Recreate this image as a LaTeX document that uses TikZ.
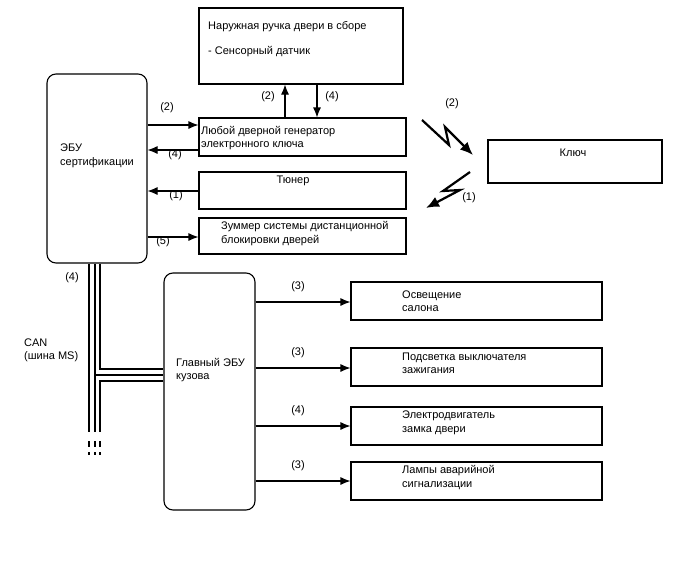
\documentclass[tikz,border=0pt]{standalone}
\usepackage{fontspec}
\setmainfont{Liberation Sans}
\usetikzlibrary{arrows.meta}

\begin{document}
\begin{tikzpicture}[
		x=1pt, y=-1pt,
		every node/.style={font=\fontsize{11}{13.5}\selectfont},
		box/.style={draw, line width=1.1pt, inner sep=0},
		ecu/.style={draw, line width=1.1pt, rounded corners=9pt, inner sep=0},
		txt/.style={inner sep=0, align=left, anchor=west},
		num/.style={inner sep=0},
		arr/.style={line width=1.1pt, -{Latex[length=10pt,width=8pt]}},
		bolt/.style={line width=2.2pt, -{Latex[length=13pt,width=11pt]}},
		bus/.style={line width=2.5pt},
		wire/.style={line width=1.3pt}
		]
		
		\useasboundingbox (0,0) rectangle (688,560);
		
		% blocks
		\node[ecu, minimum width=100pt, minimum height=189pt] (cert) at (97,168.5) {};
		\node[box, minimum width=204pt, minimum height=76pt] (handle) at (301,46) {};
		\node[box, minimum width=207pt, minimum height=38pt] (gen) at (302.5,137) {};
		\node[box, minimum width=207pt, minimum height=37pt] (tuner) at (302.5,190.5) {};
		\node[box, minimum width=207pt, minimum height=36pt] (buzzer) at (302.5,236) {};
		\node[box, minimum width=174pt, minimum height=43pt] (key) at (575,161.5) {};
		\node[ecu, minimum width=91pt, minimum height=237pt] (body) at (209.5,391.5) {};
		\node[box, minimum width=251pt, minimum height=38pt] (lamp) at (476.5,301) {};
		\node[box, minimum width=251pt, minimum height=38pt] (illum) at (476.5,367) {};
		\node[box, minimum width=251pt, minimum height=38pt] (motor) at (476.5,426) {};
		\node[box, minimum width=251pt, minimum height=38pt] (hazard) at (476.5,481) {};
		
		% texts
		\node[txt] (t-handle) at (208,27) {Наружная ручка двери в сборе};
		\node[txt] (t-sensor) at (208,52) {- Сенсорный датчик};
		\node[txt] (t-gen) at (201,138) {Любой дверной генератор\\электронного ключа};
		\node[num] (t-tuner) at (293,181) {Тюнер};
		\node[txt] (t-buzzer) at (221,233.5) {Зуммер системы дистанционной\\блокировки дверей};
		\node[num] (t-key) at (573,153) {Ключ};
		\node[txt] (t-cert) at (60,156) {ЭБУ\\сертификации};
		\node[txt] (t-body) at (176,370) {Главный ЭБУ\\кузова};
		\node[txt] (t-lamp) at (402,301) {Освещение\\салона};
		\node[txt] (t-illum) at (402,363.5) {Подсветка выключателя\\зажигания};
		\node[txt] (t-motor) at (402,423) {Электродвигатель\\замка двери};
		\node[txt] (t-hazard) at (402,477.5) {Лампы аварийной\\сигнализации};
		\node[txt] (t-can) at (24,350.5) {CAN\\(шина MS)};
		
		% signals
		\draw[arr] (cert.east |- 0,125) -- (gen.west |- 0,125);
		\draw[arr] (gen.west |- 0,150) -- (cert.east |- 0,150);
		\draw[arr] (tuner.west |- 0,191) -- (cert.east |- 0,191);
		\draw[arr] (cert.east |- 0,237) -- (buzzer.west |- 0,237);
		\draw[arr] (gen.north -| 285,0) -- (handle.south -| 285,0);
		\draw[arr] (handle.south -| 317,0) -- (gen.north -| 317,0);
		\node[num] (n-a) at (167,108) {(2)};
		\node[num] (n-b) at (175,155) {(4)};
		\node[num] (n-c) at (176,196) {(1)};
		\node[num] (n-d) at (163,242) {(5)};
		\node[num] (n-e) at (268,97) {(2)};
		\node[num] (n-f) at (332,97) {(4)};
		
		\foreach \y/\n/\t in {302/3/lamp, 368/3/illum, 426/4/motor, 481/3/hazard} {
			\draw[arr] (body.east |- 0,\y) -- (\t.west |- 0,\y);
			\node[num] (n-\t) at (298,\y-15) {(\n)};
		}
		
		% radio
		\draw[bolt] (422,120) -- (449,145) -- (445,127) -- (473,155);
		\draw[bolt] (470,172) -- (443,191) -- (460,190) -- (426,208);
		\node[num] (n-g) at (452,104) {(2)};
		\node[num] (n-h) at (469,198) {(1)};
		
		% CAN bus
		\coordinate (busend) at (0,432);
		\draw[bus] (cert.south -| 89,0) -- (busend -| 89,0);
		\draw[wire] (cert.south -| 95,0) -- (busend -| 95,0);
		\draw[bus] (cert.south -| 100,0) -- (100,369) -- (body.west |- 0,369);
		\draw[wire] (95,375) -- (body.west |- 0,375);
		\draw[bus] (body.west |- 0,381) -- (100,381) -- (busend -| 100,0);
		\foreach \x/\w in {89/2.5pt, 95/1.3pt, 100/2.5pt} {
			\draw[line width=\w] (\x,441) -- (\x,447) (\x,452) -- (\x,455);
		}
		\node[num] (n-can) at (72,278) {(4)};
		
	\end{tikzpicture}
\end{document}
